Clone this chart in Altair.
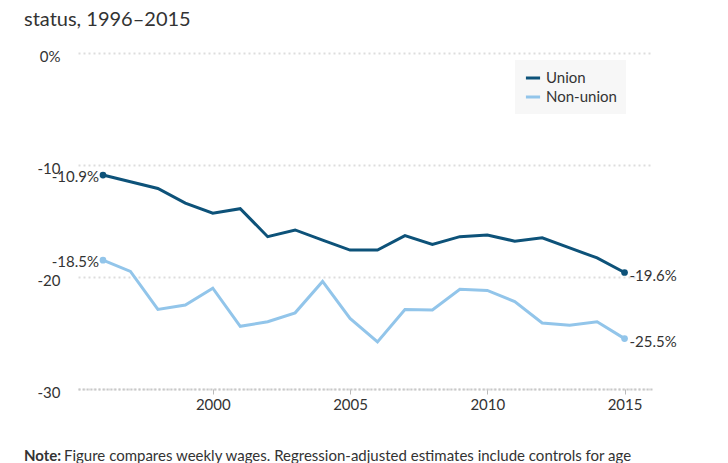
import altair as alt
import pandas as pd

years = list(range(1996, 2016))
union = [-10.9, -11.5, -12.1, -13.4, -14.3, -13.9, -16.4, -15.8, -16.7, -17.6,
         -17.6, -16.3, -17.1, -16.4, -16.25, -16.8, -16.5, -17.4, -18.3, -19.6]
nonunion = [-18.5, -19.5, -22.9, -22.5, -21.0, -24.4, -24.0, -23.2, -20.4, -23.7,
            -25.8, -22.9, -22.95, -21.1, -21.2, -22.2, -24.1, -24.3, -24.0, -25.5]
series = ["Union", "Non-union"]
colors = ["#0d5279", "#92c5ea"]
y_ticks = [0, -10, -20, -30]
x_ticks = [2000, 2005, 2010, 2015]
title_text = "status, 1996\u20132015"
note_bold = "Note:"
note_text = "Figure compares weekly wages. Regression-adjusted estimates include controls for age"

rows = []
for s, vals in zip(series, [union, nonunion]):
    for yr, v in zip(years, vals):
        rows.append({"year": yr, "value": v, "series": s})
df = pd.DataFrame(rows)
ends = df[df.year.isin([years[0], years[-1]])].copy()
ends["label"] = ends.value.map(lambda v: f"{v:.1f}%")
starts = ends[ends.year == years[0]]
finals = ends[ends.year == years[-1]]

FONT = "Lato"
TXT = "#333333"

x = alt.X("year:Q",
          scale=alt.Scale(domain=[1995.09, 2016], nice=False, zero=False),
          axis=alt.Axis(values=x_ticks, format="d", title=None, grid=False,
                        ticks=True, tickSize=5, tickColor="#bbbbbb", tickWidth=1,
                        domain=True, domainColor="#c8c8c8", domainDash=[2, 2], domainWidth=2,
                        labelPadding=3, labelFontSize=15, labelColor=TXT))
y = alt.Y("value:Q",
          scale=alt.Scale(domain=[-30, 0], nice=False),
          axis=alt.Axis(values=y_ticks, title=None, domain=False, ticks=False,
                        grid=True, gridDash=[2, 3], gridColor="#dddddd", gridWidth=2,
                        labelExpr="datum.value == 0 ? '0%' : '-' + abs(datum.value)",
                        labelPadding=18, labelFontSize=15, labelColor=TXT, labelOffset=3))
color = alt.Color("series:N",
                  scale=alt.Scale(domain=series, range=colors),
                  legend=alt.Legend(title=None, orient="none", legendX=437, legendY=7,
                                    fillColor="#f7f7f7", padding=9,
                                    symbolType="stroke", symbolStrokeWidth=3, symbolSize=200,
                                    labelFontSize=15, labelColor=TXT, rowPadding=2,
                                    labelFont=FONT))

base = alt.Chart(df)
lines = base.mark_line(strokeWidth=3).encode(x=x, y=y, color=color)
points = alt.Chart(ends).mark_point(filled=True, size=45, opacity=1).encode(
    x="year:Q", y="value:Q", color=alt.Color("series:N", legend=None))
start_labels = alt.Chart(starts).mark_text(align="right", dx=-4, dy=2, fontSize=15,
                                           color=TXT, font=FONT).encode(
    x="year:Q", y="value:Q", text="label:N")
end_labels = alt.Chart(finals).mark_text(align="left", dx=5, dy=3, fontSize=15,
                                         color=TXT, font=FONT).encode(
    x="year:Q", y="value:Q", text="label:N")

one = pd.DataFrame({"t": [title_text], "nb": [note_bold], "nt": [note_text]})
title_mark = alt.Chart(one).mark_text(align="left", baseline="alphabetic", fontSize=20,
                                      color=TXT, font=FONT).encode(
    x=alt.value(-54), y=alt.value(-27), text="t:N")
note_b = alt.Chart(one).mark_text(align="left", baseline="alphabetic", fontSize=15,
                                  fontWeight="bold", color=TXT, font=FONT).encode(
    x=alt.value(-54), y=alt.value(408), text="nb:N")
note_r = alt.Chart(one).mark_text(align="left", baseline="alphabetic", fontSize=15,
                                  color=TXT, font=FONT).encode(
    x=alt.value(-14), y=alt.value(408), text="nt:N")

chart = alt.layer(lines, points, start_labels, end_labels, title_mark, note_b, note_r).properties(
    width=574, height=336,
    padding={"left": 70, "top": 45, "right": 68, "bottom": 74},
    autosize=alt.AutoSizeParams(type="none"),
).configure(font=FONT).configure_view(stroke=None, strokeWidth=0)

chart.save("out.html", embed_options={"renderer": "svg", "actions": False})
